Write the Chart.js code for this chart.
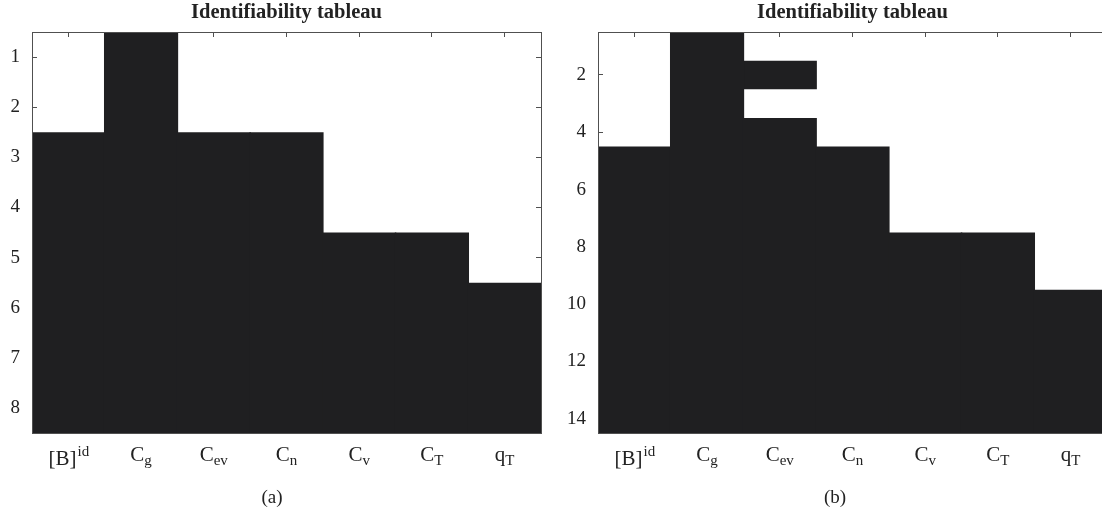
<!DOCTYPE html>
<html>
<head>
<meta charset="utf-8">
<script src="https://cdn.jsdelivr.net/npm/chart.js@4/dist/chart.umd.min.js"></script>
<style>
    html, body { margin: 0; padding: 0; background: #ffffff; overflow: hidden; }
    #wrap { position: relative; width: 1102px; height: 513px; overflow: hidden; }
    .panel { position: absolute; top: 0; width: 573px; height: 513px; }
    .caption { position: absolute; top: 486px; width: 60px; text-align: center;
               font-family: 'Liberation Serif', 'DejaVu Serif', serif; font-size: 19px; color: #222; }
</style>
</head>
<body>
<div id="wrap">
    <div class="panel" style="left:0px"><canvas id="chartA"></canvas></div>
    <div class="panel" style="left:566px"><canvas id="chartB"></canvas></div>
    <div class="caption" style="left:242px">(a)</div>
    <div class="caption" style="left:805px">(b)</div>
</div>
<script>
// Parameter labels: "_" = subscript, "^" = superscript
const paramLabels = ['[B]^id', 'C_g', 'C_ev', 'C_n', 'C_v', 'C_T', 'q_T'];

// (a) 8 rows: first row from which each parameter is identifiable
const rowCountA = 8;
const firstRowA = [3, 1, 3, 3, 5, 5, 6];
const yTicksA = [1, 2, 3, 4, 5, 6, 7, 8];

// (b) 14 rows, plus one isolated identifiable row for C_ev
const rowCountB = 14;
const firstRowB = [5, 1, 4, 5, 8, 8, 10];
const isolatedRowB = [null, null, 2, null, null, null, null];
const yTicksB = [2, 4, 6, 8, 10, 12, 14];

const FILL = '#1f1f21';
const AXIS = '#505050';
const TEXT = '#222222';
const SERIF = "'Liberation Serif', 'DejaVu Serif', serif";

function parseLabel(lbl) {
    let m = lbl.match(/^([^_^]+)\^(.+)$/);
    if (m) return { base: m[1], sup: m[2], sub: '' };
    m = lbl.match(/^([^_^]+)_(.+)$/);
    if (m) return { base: m[1], sup: '', sub: m[2] };
    return { base: lbl, sup: '', sub: '' };
}

// draws x tick labels with sub/superscripts under the category scale
const scriptLabels = {
    id: 'scriptLabels',
    afterDraw(chart) {
        const ctx = chart.ctx;
        const xs = chart.scales.x;
        const baseY = chart.chartArea.bottom + 28;
        ctx.save();
        ctx.fillStyle = TEXT;
        ctx.textBaseline = 'alphabetic';
        ctx.textAlign = 'left';
        xs.ticks.forEach((t, i) => {
            const p = parseLabel(chart.data.labels[i]);
            const cx = xs.getPixelForTick(i);
            ctx.font = '21px ' + SERIF;
            const wBase = ctx.measureText(p.base).width;
            ctx.font = '15px ' + SERIF;
            const wScript = ctx.measureText(p.sup || p.sub).width;
            const x0 = cx - (wBase + wScript) / 2;
            const y = p.sup ? baseY + 4 : baseY;
            ctx.font = '21px ' + SERIF;
            ctx.fillText(p.base, x0, y);
            ctx.font = '15px ' + SERIF;
            if (p.sup) ctx.fillText(p.sup, x0 + wBase + 1, y - 9);
            if (p.sub) ctx.fillText(p.sub, x0 + wBase, y + 4);
        });
        ctx.restore();
    }
};

function edgeGrid() {
    return { display: true, drawOnChartArea: false, drawTicks: true, tickLength: -5, offset: false, color: AXIS, lineWidth: 1 };
}

function makeChart(canvasId, rows, firstRow, yTicks, extraRows) {
    const datasets = [{
        data: firstRow.map(r => [r - 0.5, rows + 0.5]),
        backgroundColor: FILL,
        borderWidth: 0
    }];
    if (extraRows) {
        datasets.push({
            data: extraRows.map(r => (r === null ? null : [r - 0.5, r + 0.5])),
            backgroundColor: FILL,
            borderWidth: 0
        });
    }

    const setTicks = s => { s.ticks = yTicks.map(v => ({ value: v })); };

    return new Chart(document.getElementById(canvasId), {
        type: 'bar',
        data: { labels: paramLabels, datasets: datasets },
        plugins: [scriptLabels],
        options: {
            responsive: true,
            maintainAspectRatio: false,
            animation: false,
            grouped: false,
            barPercentage: 1.02,
            categoryPercentage: 1,
            layout: { padding: { left: 0, right: 0, top: 0, bottom: 35 } },
            plugins: {
                legend: { display: false },
                tooltip: { enabled: false },
                title: {
                    display: true,
                    text: 'Identifiability tableau',
                    color: TEXT,
                    font: { family: SERIF, size: 20.5, weight: 'bold' },
                    padding: { top: 0, bottom: 7.4 }
                }
            },
            scales: {
                x: {
                    type: 'category',
                    position: 'bottom',
                    offset: true,
                    grid: edgeGrid(),
                    border: { display: true, color: AXIS, width: 1, z: 1 },
                    ticks: { display: false },
                    afterFit: s => { s.height = 45; }
                },
                x2: {
                    type: 'category',
                    position: 'top',
                    offset: true,
                    grid: edgeGrid(),
                    border: { display: true, color: AXIS, width: 1, z: 1 },
                    ticks: { display: false },
                    afterFit: s => { s.height = 0; }
                },
                y: {
                    type: 'linear',
                    position: 'left',
                    reverse: true,
                    min: 0.5,
                    max: rows + 0.5,
                    afterBuildTicks: setTicks,
                    grid: edgeGrid(),
                    border: { display: true, color: AXIS, width: 1, z: 1 },
                    ticks: { color: TEXT, font: { family: SERIF, size: 19 }, padding: 17 },
                    afterFit: s => { s.width = 32; }
                },
                y2: {
                    type: 'linear',
                    position: 'right',
                    reverse: true,
                    min: 0.5,
                    max: rows + 0.5,
                    afterBuildTicks: setTicks,
                    grid: edgeGrid(),
                    border: { display: true, color: AXIS, width: 1, z: 1 },
                    ticks: { display: false },
                    afterFit: s => { s.width = 32; }
                }
            }
        }
    });
}

makeChart('chartA', rowCountA, firstRowA, yTicksA, null);
makeChart('chartB', rowCountB, firstRowB, yTicksB, isolatedRowB);
</script>
</body>
</html>
